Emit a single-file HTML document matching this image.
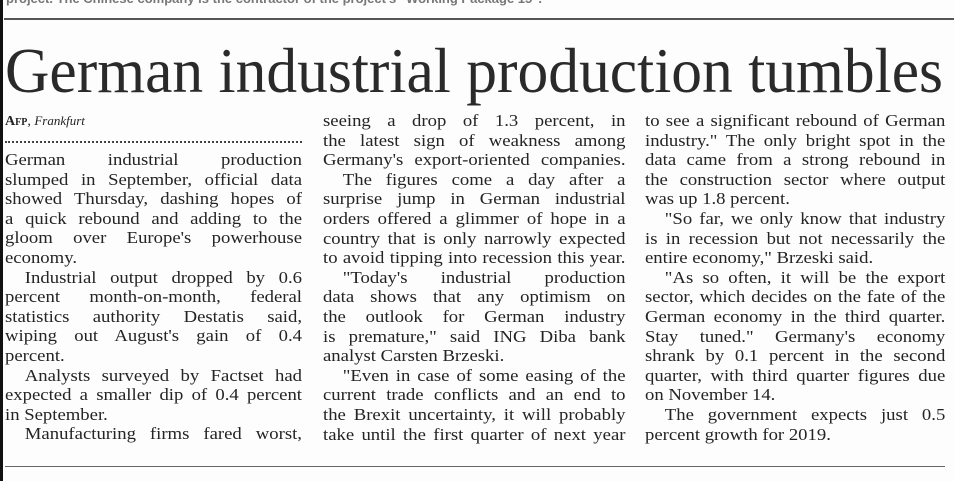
<!DOCTYPE html>
<html><head><meta charset="utf-8">
<style>
html,body{margin:0;padding:0;}
body{width:954px;height:481px;background:#fdfdfd;position:relative;overflow:hidden;font-family:"Liberation Serif",serif;color:#242424;}
.bar{position:absolute;left:0;top:0;width:3px;height:481px;background:#111;}
.rule{position:absolute;height:2px;background:#555;}
.col{position:absolute;font-size:17px;line-height:19.6px;transform:scaleX(1.1);transform-origin:0 0;}
.col div{white-space:nowrap;text-align:justify;text-align-last:justify;height:19.6px;overflow:visible;}
.col div.l{text-align-last:left;}
.col div.i{padding-left:18px;}
.topcut{position:absolute;left:6px;top:-9px;font-family:"Liberation Sans",sans-serif;font-weight:bold;font-size:13px;color:#777;}
</style></head><body>
<div class="bar"></div>
<div class="topcut">project. The Chinese company is the contractor of the project's "Working Package 15".</div>
<div class="rule" style="left:4px;top:18px;width:950px;"></div>
<svg style="position:absolute;left:0;top:0" width="954" height="110">
<text x="5" y="92" font-family="Liberation Serif, serif" font-size="64" fill="#2a2a2a" textLength="938" lengthAdjust="spacingAndGlyphs">German industrial production tumbles</text>
</svg>
<div style="position:absolute;left:5px;top:113px;font-size:14px;"><span style="font-variant:small-caps;font-weight:bold;">Afp</span>, <i style="font-size:13px;">Frankfurt</i></div>
<div style="position:absolute;left:5px;top:141px;width:297px;border-top:2px dotted #444;"></div>

<div class="col" style="left:5px;top:150px;width:270px;">
<div>German industrial production</div>
<div>slumped in September, official data</div>
<div>showed Thursday, dashing hopes of</div>
<div>a quick rebound and adding to the</div>
<div>gloom over Europe's powerhouse</div>
<div class="l">economy.</div>
<div class="i">Industrial output dropped by 0.6</div>
<div>percent month-on-month, federal</div>
<div>statistics authority Destatis said,</div>
<div>wiping out August's gain of 0.4</div>
<div class="l">percent.</div>
<div class="i">Analysts surveyed by Factset had</div>
<div>expected a smaller dip of 0.4 percent</div>
<div class="l">in September.</div>
<div class="i">Manufacturing firms fared worst,</div>
</div>

<div class="col" style="left:323px;top:111px;width:275px;">
<div>seeing a drop of 1.3 percent, in</div>
<div>the latest sign of weakness among</div>
<div>Germany's export-oriented companies.</div>
<div class="i">The figures come a day after a</div>
<div>surprise jump in German industrial</div>
<div>orders offered a glimmer of hope in a</div>
<div>country that is only narrowly expected</div>
<div>to avoid tipping into recession this year.</div>
<div class="i">"Today's industrial production</div>
<div>data shows that any optimism on</div>
<div>the outlook for German industry</div>
<div>is premature," said ING Diba bank</div>
<div class="l">analyst Carsten Brzeski.</div>
<div class="i">"Even in case of some easing of the</div>
<div>current trade conflicts and an end to</div>
<div>the Brexit uncertainty, it will probably</div>
<div>take until the first quarter of next year</div>
</div>

<div class="col" style="left:645px;top:111px;width:273px;">
<div>to see a significant rebound of German</div>
<div>industry." The only bright spot in the</div>
<div>data came from a strong rebound in</div>
<div>the construction sector where output</div>
<div class="l">was up 1.8 percent.</div>
<div class="i">"So far, we only know that industry</div>
<div>is in recession but not necessarily the</div>
<div class="l">entire economy," Brzeski said.</div>
<div class="i">"As so often, it will be the export</div>
<div>sector, which decides on the fate of the</div>
<div>German economy in the third quarter.</div>
<div>Stay tuned." Germany's economy</div>
<div>shrank by 0.1 percent in the second</div>
<div>quarter, with third quarter figures due</div>
<div class="l">on November 14.</div>
<div class="i">The government expects just 0.5</div>
<div class="l">percent growth for 2019.</div>
</div>

<div class="rule" style="left:5px;top:466px;width:940px;height:1px;background:#666;"></div>
</body></html>
